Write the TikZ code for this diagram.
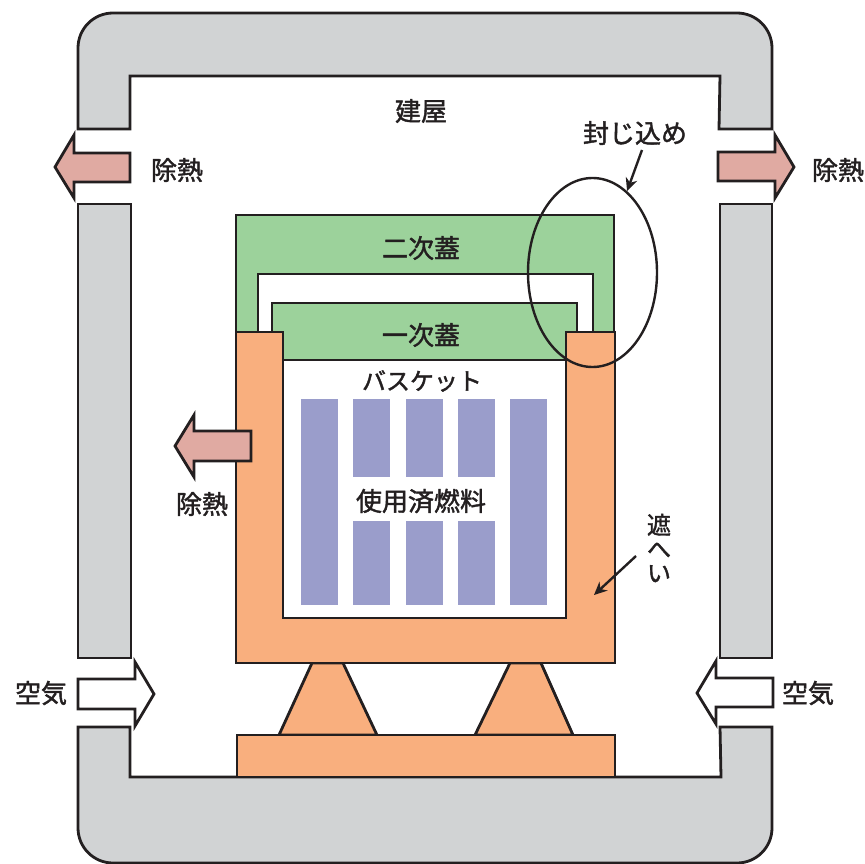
\documentclass[tikz,border=0pt]{standalone}
\usepackage{fontspec}
\setmainfont[FakeBold=1.6]{Noto Sans CJK JP}
\usetikzlibrary{arrows.meta,shapes.geometric}
\definecolor{inkline}{HTML}{231F20}
\definecolor{wallgray}{HTML}{D1D3D4}
\definecolor{lidgreen}{HTML}{9CD29B}
\definecolor{caskorange}{HTML}{F9AF7E}
\definecolor{heatpink}{HTML}{E0AAA2}
\definecolor{fuelblue}{HTML}{9A9DCB}
\tikzset{
  outline/.style = {draw=inkline, line width=2.8pt, line join=miter},
  wall/.style = {outline, fill=wallgray},
  lid/.style = {outline, fill=lidgreen},
  cask/.style = {outline, fill=caskorange},
  heatflow/.style = {outline, fill=heatpink},
  airflow/.style = {outline, fill=white},
  rod/.style = {fill=fuelblue},
  pointer/.style = {draw=inkline, line width=2.4pt, -{Stealth[length=13pt,width=12pt]}},
  tag/.style = {text=inkline, font=\fontsize{26}{26}\selectfont, inner sep=0pt}
}
\begin{document}
\begin{tikzpicture}[x=1pt, y=-1pt]
  \useasboundingbox (0,0) rectangle (865,864);
  % building
  \draw[wall] (78,129) [rounded corners=35pt] -- (78,13) -- (772,13) [sharp corners] -- (772,129) -- (719,129) -- (720,76) -- (130,76) -- (130,129) -- cycle;
  \draw[wall] (78,204) rectangle (131,658);
  \draw[wall] (720,204) rectangle (772,658);
  \draw[wall] (78,727) [rounded corners=35pt] -- (78,863) -- (772,863) [sharp corners] -- (772,727) -- (720,727) -- (721,777) -- (130,777) -- (130,727) -- cycle;

  % heat and air
  \draw[heatflow] (130,153) -- (74,153) -- (74,135) -- (55,167) -- (74,198) -- (74,182) -- (130,182) -- cycle;
  \draw[heatflow] (718,152) -- (775,152) -- (775,135) -- (794,167) -- (775,198) -- (775,181) -- (718,181) -- cycle;
  \draw[airflow] (78,679) -- (135,679) -- (135,662) -- (154,694) -- (135,726) -- (135,709) -- (78,709) -- cycle;
  \draw[airflow] (773,678) -- (716,678) -- (716,661) -- (697,693) -- (716,724) -- (716,707) -- (773,707) -- cycle;

  % lids
  \draw[lid] (236,215) rectangle (614,332);
  \draw[outline, fill=white] (258,332) -- (258,274) -- (593,274) -- (593,332);
  \draw[lid] (272,360) -- (272,303) -- (577,303) -- (577,360) -- cycle;

  % supports and cask
  \draw[cask] (312,663) -- (279,735) -- (377,735) -- (343,663) -- cycle;
  \draw[cask] (510,663) -- (475,735) -- (573,735) -- (541,663) -- cycle;
  \draw[cask] (237,735) rectangle (615,777);
  \draw[cask] (236,332) -- (283,332) -- (283,618) -- (566,618) -- (566,332) -- (615,332) -- (615,663) -- (236,663) -- cycle;
  \fill[white] (284.4,361.4) rectangle (564.6,616.6);
  \draw[outline] (283,360) -- (566,360);

  % fuel
  \fill[rod] (301,399) rectangle (338,605);
  \fill[rod] (510,399) rectangle (547,605);
  \foreach \x in {353,406,458} {
    \fill[rod] (\x,399) rectangle +(37,78);
    \fill[rod] (\x,521) rectangle +(37,84);
  }
  \draw[heatflow] (251,431) -- (194,431) -- (194,415) -- (175,446) -- (194,477) -- (194,461) -- (251,461) -- cycle;

  % labels
  \node[tag] (building) at (421,111) {建屋};
  \node[tag] (heatleft) at (177,170) {除熱};
  \node[tag] (heatright) at (838,170) {除熱};
  \node[tag] (heatcask) at (202,504) {除熱};
  \node[tag] (airleft) at (41,693) {空気};
  \node[tag] (airright) at (808,693) {空気};
  \node[tag] (lidouter) at (421,248) {二次蓋};
  \node[tag] (lidinner) at (421,335) {一次蓋};
  \node[tag, font=\fontsize{24}{24}\selectfont] (basket) at (422,381) {バスケット};
  \node[tag] (fuel) at (421,501) {使用済燃料};
  \node[tag] (seal) at (635,133) {封じ込め};
  \node[tag, align=center, font=\fontsize{24}{24}\selectfont] (shield) at (659,548) {遮\\へ\\い};

  % pointers
  \node[draw=inkline, line width=2.4pt, ellipse, minimum width=129pt, minimum height=189pt, inner sep=0pt] (sealring) at (592.5,272.5) {};
  \coordinate (sealfoot) at (642,150);
  \coordinate (shieldfoot) at (636,556);
  \coordinate (shieldtip) at (594,595);
  \draw[pointer] (sealfoot) -- (sealring.67);
  \draw[pointer] (shieldfoot) -- (shieldtip);
\end{tikzpicture}
\end{document}
